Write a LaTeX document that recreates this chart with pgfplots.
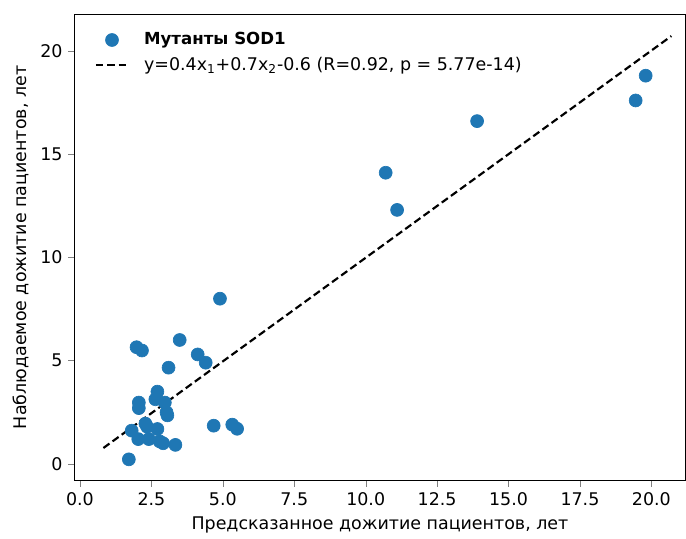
\documentclass[border=0pt]{standalone}
\usepackage{fontspec}
\setmainfont{DejaVu Sans}
\usepackage{pgfplots}
\pgfplotsset{compat=1.18}
\definecolor{tabblue}{HTML}{1F77B4}

\begin{document}
\begin{tikzpicture}
\begin{axis}[
    scale only axis,
    width=368pt, height=281pt,
    xmin=-0.2, xmax=21.2,
    ymin=-0.82, ymax=21.79,
    xtick={0,2.5,...,20},
    ytick={0,5,10,15,20},
    xticklabel style={/pgf/number format/.cd, fixed, fixed zerofill, precision=1},
    /pgf/number format/assume math mode=true,
    tick align=outside,
    tick pos=left,
    major tick length=3.5pt,
    ticklabel style={font=\fontsize{10.5}{12}\selectfont},
    label style={font=\fontsize{10.5}{12}\selectfont},
    xlabel={Предсказанное дожитие пациентов, лет},
    ylabel={Наблюдаемое дожитие пациентов, лет},
    legend style={draw=none, fill=none, at={(0.025,0.975)}, anchor=north west,
        font=\fontsize{10.5}{12}\selectfont, row sep=2pt, column sep=7pt},
    legend cell align=left,
    legend image code/.code={\draw[mark repeat=2, mark phase=2, #1]
        plot coordinates {(0cm,0cm) (0.34cm,0cm) (0.68cm,0cm)};},
]
\addplot[only marks, mark=*, mark size=3.9pt, mark options={fill=tabblue, draw=tabblue}]
coordinates {
    (19.8,18.8) (19.45,17.6) (13.9,16.6) (10.7,14.1) (11.1,12.3) (4.9,8.0)
    (3.49,6.0) (1.98,5.65) (2.17,5.49) (4.12,5.3) (4.4,4.9) (3.1,4.66)
    (2.71,3.5) (2.64,3.13) (2.06,2.97) (2.06,2.7) (2.97,2.97) (3.03,2.5)
    (3.06,2.35) (2.29,1.95) (2.35,1.8) (1.81,1.61) (2.71,1.69) (2.04,1.2)
    (2.41,1.2) (2.79,1.09) (2.91,1.0) (3.34,0.92) (1.71,0.22) (4.68,1.85)
    (5.33,1.9) (5.5,1.7)
};
\addlegendentry{\fontsize{10}{12}\selectfont\textbf{Мутанты SOD1}}
\addplot[black, line width=1.3pt, dash pattern=on 4.5pt off 2.3pt]
coordinates {(0.82,0.77) (20.7,20.72)};
\addlegendentry{y=0.4x\textsubscript{1}+0.7x\textsubscript{2}-0.6 (R=0.92, p = 5.77e-14)}
\end{axis}
\path (current axis.north east) -- ++(0,8.4pt);
\path ([xshift=-4.5pt]current bounding box.west);
\end{tikzpicture}
\end{document}
